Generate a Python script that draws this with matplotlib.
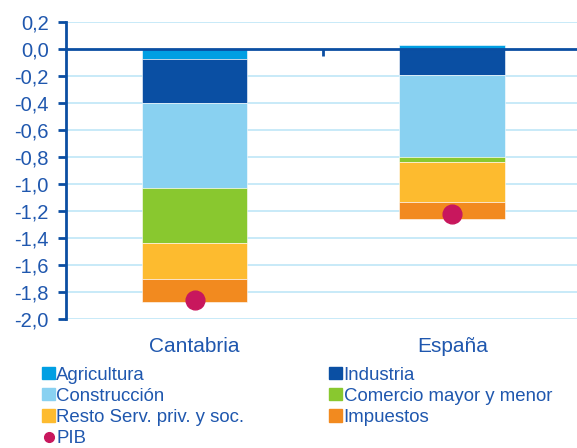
import matplotlib
matplotlib.use("Agg")
import matplotlib.pyplot as plt
from matplotlib.lines import Line2D
from matplotlib.patches import Patch
import numpy as np

categories = ["Cantabria", "España"]
series_names = ["Agricultura", "Industria", "Construcción",
                "Comercio mayor y menor", "Resto Serv. priv. y soc.", "Impuestos"]
agricultura = [-0.07, 0.03]
industria = [-0.33, -0.19]
construccion = [-0.63, -0.61]
comercio = [-0.41, -0.035]
resto = [-0.265, -0.30]
impuestos = [-0.17, -0.12]
pib = [-1.86, -1.22]
yticks = [0.2, 0.0, -0.2, -0.4, -0.6, -0.8, -1.0, -1.2, -1.4, -1.6, -1.8, -2.0]

colors = ["#009FE3", "#0A4FA3", "#89D1F1", "#89C82F", "#FDBB2F", "#F28A1F"]
pib_color = "#C8175D"
text_color = "#1F57AE"
axis_color = "#0B4EA2"
grid_color = "#BFE6F7"

plt.rcParams['font.family'] = ['Liberation Sans', 'DejaVu Sans']

fig = plt.figure(figsize=(5.77, 4.48), dpi=100)
ax = fig.add_axes([0.1138, 0.288, 0.8862, 0.662])

x = np.arange(len(categories))
width = 0.41
all_series = [agricultura, industria, construccion, comercio, resto, impuestos]
pos_base = np.zeros(len(categories))
neg_base = np.zeros(len(categories))
for vals, c, name in zip(all_series, colors, series_names):
    vals = np.array(vals)
    bottom = np.where(vals >= 0, pos_base, neg_base)
    ax.bar(x, vals, width=width, bottom=bottom, color=c, edgecolor="white",
           linewidth=0.4, zorder=3, label=name)
    pos_base = pos_base + np.where(vals >= 0, vals, 0)
    neg_base = neg_base + np.where(vals < 0, vals, 0)

ax.plot(x, pib, linestyle="none", marker="o", markersize=13.5, color=pib_color,
        zorder=5, label="PIB")

ax.set_xlim(-0.5, 1.484)
ax.set_ylim(-2.0, 0.2)
ax.set_yticks(yticks)
ax.set_yticklabels([f"{v:.1f}".replace(".", ",") if v != 0 else "0,0" for v in yticks])
ax.set_xticks(x)
ax.set_xticklabels(categories)

for t in yticks:
    if t != 0:
        ax.axhline(t, color=grid_color, linewidth=1.2, zorder=1)
ax.axhline(0, color=axis_color, linewidth=2, zorder=4)
ax.plot([0.5], [0], marker=3, markersize=5, markeredgewidth=2, color=axis_color,
        zorder=4, clip_on=False)

for s in ["top", "right", "bottom"]:
    ax.spines[s].set_visible(False)
ax.spines["left"].set_color(axis_color)
ax.spines["left"].set_linewidth(2)
ax.tick_params(axis="y", colors=axis_color, length=5.5, width=2, labelsize=14.5,
               labelcolor=text_color, pad=6.5)
ax.tick_params(axis="x", length=0, labelsize=15, labelcolor=text_color, pad=13)

handles = [Patch(color=colors[0]), Patch(color=colors[2]), Patch(color=colors[4]),
           Line2D([], [], linestyle="none", marker="o", color=pib_color, markersize=7),
           Patch(color=colors[1]), Patch(color=colors[3]), Patch(color=colors[5])]
labels = [series_names[0], series_names[2], series_names[4], "PIB",
          series_names[1], series_names[3], series_names[5]]
leg = fig.legend(handles, labels, ncol=2, loc="upper left", bbox_to_anchor=(0.0733, 0.1813),
                 frameon=False, fontsize=13.4, handlelength=0.68, handleheight=0.63,
                 handletextpad=0.08, columnspacing=4.57, labelspacing=0.22,
                 borderaxespad=0, borderpad=0)
for t in leg.get_texts():
    t.set_color(text_color)

fig.savefig("out.png", dpi=100)
